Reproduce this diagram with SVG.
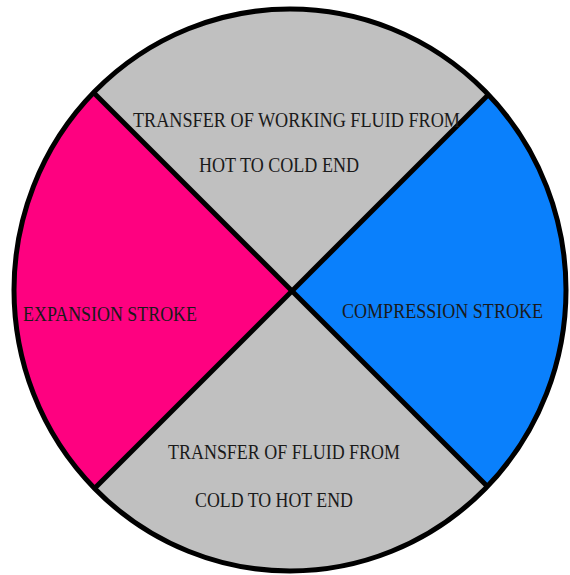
<svg xmlns="http://www.w3.org/2000/svg" width="570" height="575" viewBox="0 0 570 575">
<style>
.lbl{font-family:"Liberation Serif","DejaVu Serif",serif;font-size:20px;fill:#1a1a1a}
.div{stroke:#000;stroke-width:5;fill:none}
</style>
<defs>
<clipPath id="clip"><ellipse cx="290" cy="290" rx="276" ry="281"/></clipPath>
</defs>
<rect width="570" height="575" fill="#fff"/>
<g id="cycle">
<ellipse cx="290" cy="290" rx="276" ry="281" fill="#c0c0c0"/>
<g clip-path="url(#clip)">
<polygon id="expansion-sector" points="292,291 -8,-9 -8,591" fill="#fe0180"/>
<polygon id="compression-sector" points="292,291 592,-9 592,591" fill="#0a80fc"/>
</g>
</g>
<g id="connectors" clip-path="url(#clip)">
<line class="div" x1="-8" y1="-9" x2="592" y2="591"/>
<line class="div" x1="592" y1="-9" x2="-8" y2="591"/>
</g>
<ellipse cx="290" cy="290" rx="276" ry="281" class="div"/>
<g id="top-transfer">
<text class="lbl" x="133" y="127" textLength="327" lengthAdjust="spacingAndGlyphs">TRANSFER OF WORKING FLUID FROM</text>
<text class="lbl" x="199" y="172" textLength="160" lengthAdjust="spacingAndGlyphs">HOT TO COLD END</text>
</g>
<g id="expansion">
<text class="lbl" x="23" y="321" textLength="174" lengthAdjust="spacingAndGlyphs">EXPANSION STROKE</text>
</g>
<g id="compression">
<text class="lbl" x="342" y="318" textLength="201" lengthAdjust="spacingAndGlyphs">COMPRESSION STROKE</text>
</g>
<g id="bottom-transfer">
<text class="lbl" x="168" y="459" textLength="232" lengthAdjust="spacingAndGlyphs">TRANSFER OF FLUID FROM</text>
<text class="lbl" x="195" y="507" textLength="158" lengthAdjust="spacingAndGlyphs">COLD TO HOT END</text>
</g>
</svg>
